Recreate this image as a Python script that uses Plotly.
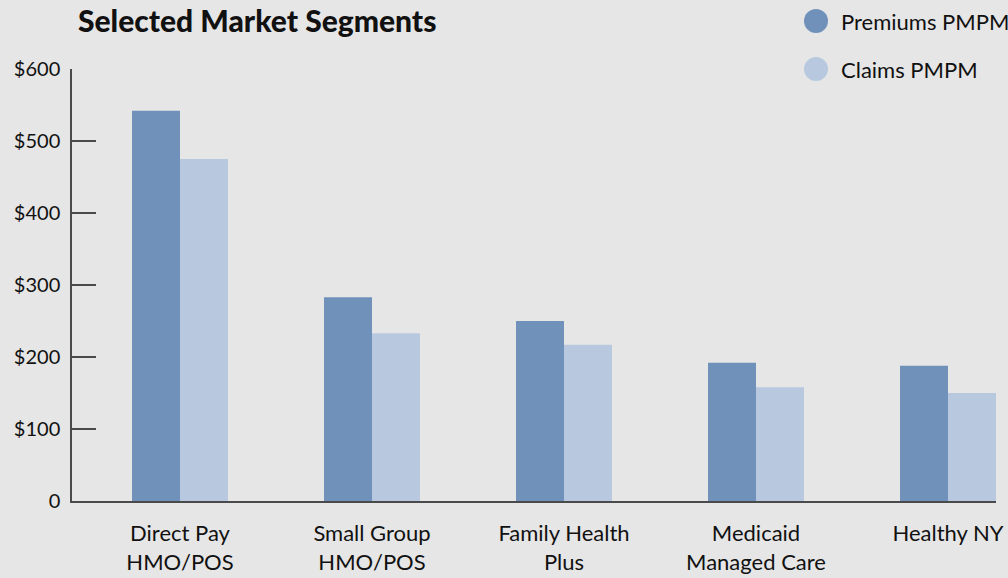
import plotly.graph_objects as go

categories = ["Direct Pay<br>HMO/POS", "Small Group<br>HMO/POS", "Family Health<br>Plus",
              "Medicaid<br>Managed Care", "Healthy NY"]
premiums = [542, 283, 250, 192, 188]
claims = [475, 233, 217, 158, 150]
series_names = ["Premiums PMPM", "Claims PMPM"]
series_colors = ["#7092BA", "#B8C9DF"]
y_tickvals = [0, 100, 200, 300, 400, 500, 600]
y_ticktext = ["0", "$100", "$200", "$300", "$400", "$500", "$600"]
title_text = "Selected Market Segments"

FONT = "Lato"
BG = "#E6E6E6"
AX = "#4A4A4A"

fig = go.Figure()
for name, vals, col in zip(series_names, [premiums, claims], series_colors):
    fig.add_trace(go.Bar(x=categories, y=vals, name=name, marker=dict(color=col, line=dict(width=0)),
                         showlegend=False, hoverinfo="x+y"))

fig.update_layout(
    width=1008, height=578,
    margin=dict(l=72, r=12, t=69, b=77, pad=0, autoexpand=False),
    paper_bgcolor=BG, plot_bgcolor=BG,
    barmode="group", bargap=0.5, bargroupgap=0,
    font=dict(family=FONT, color="#111111", size=20),
    showlegend=False,
)
fig.update_xaxes(
    range=[-0.5625, 4.25], showline=True, linecolor=AX, linewidth=1.5, automargin=False,
    showgrid=False, zeroline=False, ticks="", ticklabelstandoff=12,
    tickfont=dict(size=22, family=FONT, color="#111111"),
)
fig.update_yaxes(
    range=[0, 600], tickvals=y_tickvals, ticktext=y_ticktext, automargin=False,
    showline=True, linecolor=AX, linewidth=1.5, showgrid=False, zeroline=False,
    ticks="inside", ticklen=24, tickwidth=1.5, tickcolor=AX,
    tickfont=dict(size=20, family=FONT, color="#111111"), ticklabelstandoff=6,
)

# title (at the very top, as in reference)
fig.add_annotation(text=title_text, xref="paper", yref="paper",
                   x=0.004, y=1.1597, xanchor="left", yanchor="top", showarrow=False,
                   font=dict(size=30, family=FONT, color="#111111", weight=900))

# legend: circles + labels
leg_y = [1.111, 1.0]
for name, col, ly in zip(series_names, series_colors, leg_y):
    fig.add_shape(type="circle", xref="paper", yref="paper", xsizemode="pixel", ysizemode="pixel",
                  xanchor=(816 - 72) / 924, yanchor=ly, x0=-12, x1=12, y0=-12, y1=12,
                  fillcolor=col, line=dict(width=0), layer="above")
    fig.add_annotation(text=name, xref="paper", yref="paper", x=(839 - 72) / 924, y=ly,
                       xanchor="left", yanchor="middle", showarrow=False,
                       font=dict(size=22, family=FONT, color="#111111"))

fig.write_html("out.html")
